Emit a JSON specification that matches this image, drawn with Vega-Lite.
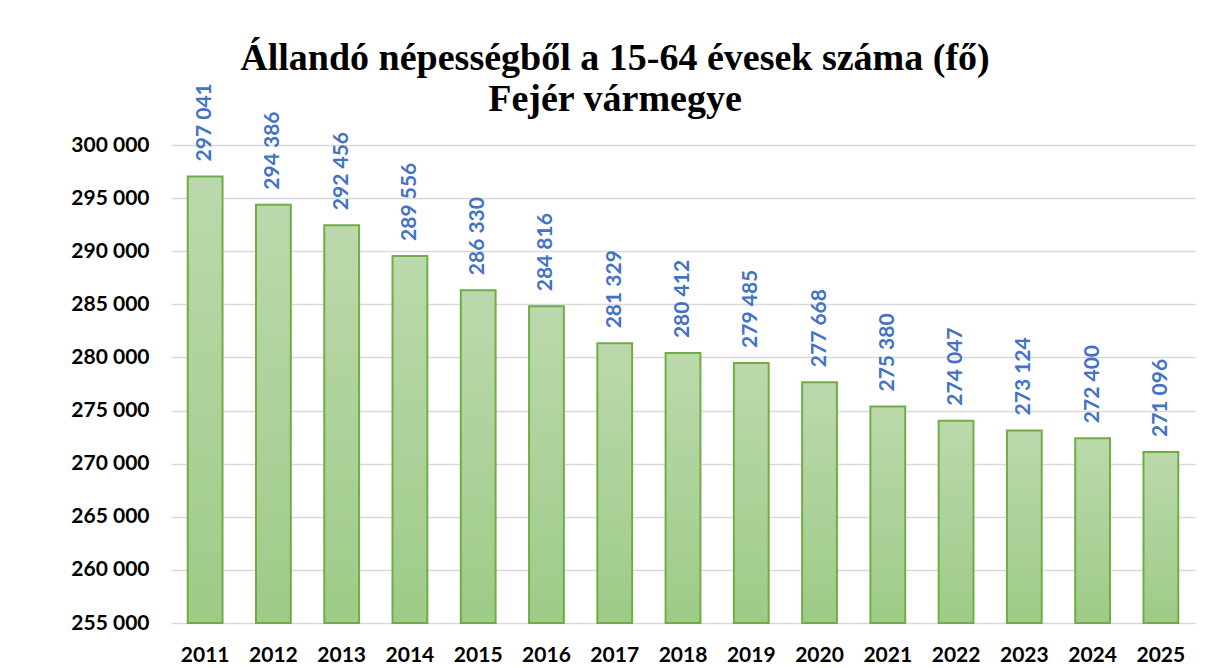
{
  "$schema": "https://vega.github.io/schema/vega-lite/v6.json",
  "width": 1024,
  "height": 478,
  "autosize": {"type": "none"},
  "padding": {"left": 171, "top": 145, "right": 12, "bottom": 45},
  "background": "white",
  "title": {
    "text": ["Állandó népességből a 15-64 évesek száma (fő)", "Fejér vármegye"],
    "font": "Liberation Serif",
    "fontSize": 38,
    "fontWeight": "bold",
    "color": "black",
    "anchor": "middle",
    "dx": -68,
    "dy": 56,
    "lineHeight": 41,
    "offset": 20
  },
  "data": {
    "values": [
      {"year": "2011", "value": 297041},
      {"year": "2012", "value": 294386},
      {"year": "2013", "value": 292456},
      {"year": "2014", "value": 289556},
      {"year": "2015", "value": 286330},
      {"year": "2016", "value": 284816},
      {"year": "2017", "value": 281329},
      {"year": "2018", "value": 280412},
      {"year": "2019", "value": 279485},
      {"year": "2020", "value": 277668},
      {"year": "2021", "value": 275380},
      {"year": "2022", "value": 274047},
      {"year": "2023", "value": 273124},
      {"year": "2024", "value": 272400},
      {"year": "2025", "value": 271096}
    ]
  },
  "encoding": {
    "x": {
      "field": "year",
      "type": "ordinal",
      "title": null,
      "scale": {"paddingInner": 0.49, "paddingOuter": 0.245},
      "axis": {
        "labelAngle": 0,
        "labelFont": "Lato",
        "labelFontSize": 21,
        "labelFontWeight": "bold",
        "labelColor": "black",
        "labelPadding": 21,
        "ticks": false,
        "domain": false,
        "grid": false
      }
    },
    "y": {
      "field": "value",
      "type": "quantitative",
      "title": null,
      "scale": {"domain": [255000, 300000], "zero": false, "nice": false},
      "axis": {
        "values": [255000, 260000, 265000, 270000, 275000, 280000, 285000, 290000, 295000, 300000],
        "labelExpr": "format(datum.value, ',')",
        "labelFont": "Lato",
        "labelFontSize": 21,
        "labelFontWeight": "bold",
        "labelColor": "black",
        "labelPadding": 22,
        "ticks": false,
        "domain": false,
        "grid": true,
        "gridColor": "#d9d9d9",
        "gridWidth": 1.5
      }
    }
  },
  "layer": [
    {
      "mark": {
        "type": "bar",
        "color": {
          "gradient": "linear",
          "x1": 0, "y1": 0, "x2": 0, "y2": 1,
          "stops": [
            {"offset": 0, "color": "#bbd9ac"},
            {"offset": 1, "color": "#9ecb87"}
          ]
        },
        "stroke": "#70ad47",
        "strokeWidth": 2
      },
      "encoding": {
        "y2": {"datum": 255000}
      }
    },
    {
      "mark": {
        "type": "text",
        "angle": -90,
        "align": "left",
        "baseline": "middle",
        "dx": 15,
        "font": "Lato",
        "fontSize": 21,
        "fontWeight": "bold",
        "color": "#4472c4"
      },
      "encoding": {
        "text": {"field": "value", "type": "quantitative", "format": ","}
      }
    }
  ],
  "config": {
    "locale": {
      "number": {"decimal": ",", "thousands": " ", "grouping": [3], "currency": ["", " Ft"]}
    },
    "view": {"stroke": null}
  }
}
